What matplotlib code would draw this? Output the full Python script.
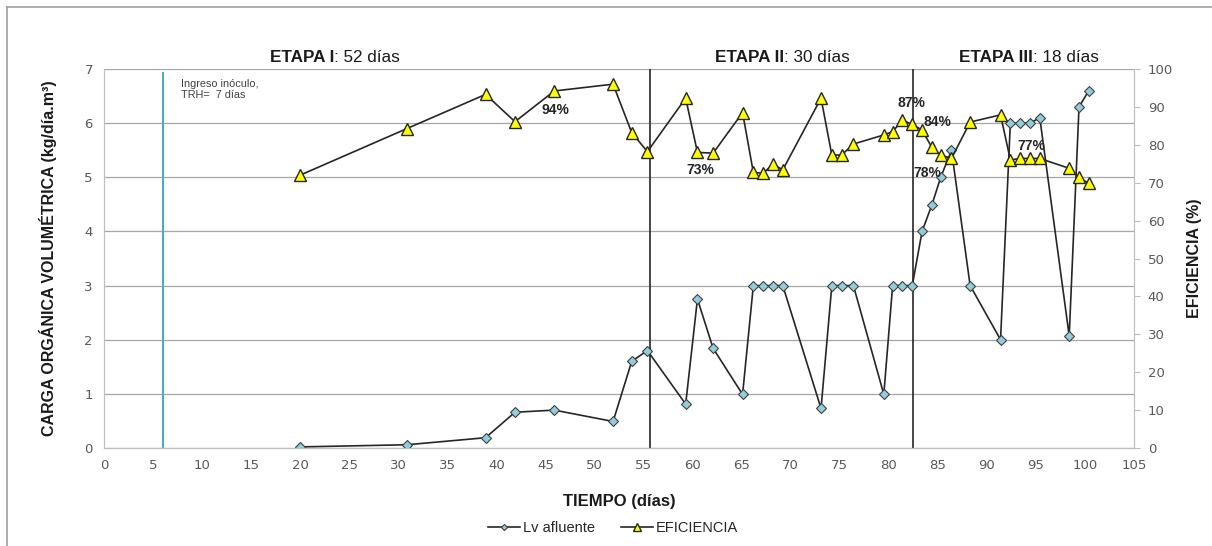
"""
Carga orgánica volumétrica y eficiencia vs tiempo
"""

from matplotlib import pyplot as plt
from matplotlib.lines import Line2D

# Lv afluente (kg/día.m3)
dias_lv = [20.0, 30.9, 38.9, 41.9, 45.9, 51.9, 53.8, 55.4, 59.3, 60.5, 62.1,
           65.1, 66.2, 67.2, 68.2, 69.2, 73.1, 74.2, 75.2, 76.4, 79.5, 80.4,
           81.4, 82.4, 83.4, 84.4, 85.3, 86.4, 88.3, 91.4, 92.4, 93.4, 94.4,
           95.4, 98.4, 99.4, 100.4]
lv = [0.02, 0.06, 0.19, 0.66, 0.70, 0.49, 1.60, 1.80, 0.81, 2.75, 1.84,
      0.99, 3.0, 3.0, 3.0, 3.0, 0.73, 3.0, 3.0, 3.0, 0.99, 3.0,
      3.0, 3.0, 4.0, 4.49, 5.0, 5.5, 3.0, 2.0, 6.0, 6.0, 6.0,
      6.1, 2.07, 6.3, 6.6]

# eficiencia (%)
dias_ef = [20.0, 30.9, 38.9, 41.9, 45.9, 51.9, 53.8, 55.4, 59.3, 60.5, 62.1,
           65.1, 66.2, 67.2, 68.2, 69.2, 73.1, 74.2, 75.2, 76.4, 79.5, 80.4,
           81.4, 82.4, 83.4, 84.4, 85.3, 86.4, 88.3, 91.4, 92.4, 93.4, 94.4,
           95.4, 98.4, 99.4, 100.4]
eficiencia = [72.0, 84.3, 93.3, 86.1, 94.2, 96.0, 83.2, 78.2, 92.3, 78.0, 77.8,
              88.5, 72.7, 72.5, 74.9, 73.4, 92.3, 77.3, 77.3, 80.2, 82.6, 83.5,
              86.5, 85.4, 83.9, 79.3, 77.3, 76.4, 86.0, 87.9, 76.0, 76.4, 76.4,
              76.4, 73.8, 71.4, 69.8]

# etiquetas de porcentaje (x, y en eje de eficiencia)
etiquetas = ['94%', '73%', '87%', '84%', '78%', '77%']
etiq_x = [46.0, 60.8, 82.3, 85.0, 83.9, 94.5]
etiq_y = [89.2, 73.4, 91.0, 86.0, 72.6, 79.7]

# limites de etapa
limites = [55.7, 82.5]
inoculo = 6.0

plt.rcParams['font.family'] = ['Liberation Sans', 'DejaVu Sans']

fig = plt.figure(figsize=(12.12, 5.46), dpi=100)
ax = fig.add_axes([0.0858, 0.1795, 0.8498, 0.6941])
ax2 = ax.twinx()

spine_c = '#bfbfbf'
tick_c = '#595959'

# marco exterior (solo visible arriba e izquierda)
fig.add_artist(Line2D([7 / 1212, 7 / 1212], [0, 1 - 7 / 546],
                      color='#a0a0a0', lw=1.2, transform=fig.transFigure))
fig.add_artist(Line2D([7 / 1212, 1], [1 - 7 / 546, 1 - 7 / 546],
                      color='#a0a0a0', lw=1.2, transform=fig.transFigure))

ax.set_xlim(0, 105)
ax.set_ylim(0, 7)
ax.set_xticks(range(0, 106, 5))
ax.set_yticks(range(0, 8))
ax.grid(axis='y', color='#a6a6a6', lw=0.9)
ax.set_axisbelow(True)
ax.tick_params(axis='both', length=0, labelsize=9.5, colors=tick_c, pad=8,
               labelfontfamily='DejaVu Sans')
for s in ax.spines.values():
    s.set_color(spine_c)
ax.spines['top'].set_visible(False)

ax2.set_ylim(0, 100)
ax2.set_yticks(range(0, 101, 10))
ax2.tick_params(axis='y', length=4, color=spine_c, labelsize=9.5,
                colors=tick_c, pad=6, labelfontfamily='DejaVu Sans')
ax2.tick_params(axis='y', color=spine_c)
for s in ax2.spines.values():
    s.set_color(spine_c)
ax2.spines['top'].set_visible(False)

# lineas verticales
ax.axvline(inoculo, ymax=0.99, color='#4bacc6', lw=1.5)
for lim in limites:
    ax.axvline(lim, color='#262626', lw=1.2, zorder=1)

ax.plot(dias_lv, lv, color='#262626', lw=1.2, marker='D', markersize=5.2,
        markerfacecolor='#93cddd', markeredgecolor='#404040',
        markeredgewidth=0.8, label='Lv afluente', zorder=3)
ax2.plot(dias_ef, eficiencia, color='#262626', lw=1.2, marker='^',
         markersize=9, markerfacecolor='#ffff00', markeredgecolor='#262626',
         markeredgewidth=1.0, label='EFICIENCIA', zorder=3)

for t, x, y in zip(etiquetas, etiq_x, etiq_y):
    ax2.text(x, y, t, ha='center', va='center', fontsize=10,
             fontweight='bold', color='#262626')

ax.text(7.9, 6.62, 'Ingreso inóculo,\nTRH=  7 días', fontsize=7.8,
        color='#404040', va='center', linespacing=1.15)

# titulos de etapa
titulos = [('ETAPA I', ': 52 días', 270), ('ETAPA II', ': 30 días', 715),
           ('ETAPA III', ': 18 días', 959)]
for bold, rest, px in titulos:
    tb = fig.text(px / 1212, 1 - 58 / 546, bold, fontsize=12.3,
                  fontweight='bold', va='center', color='#1a1a1a')
    fig.canvas.draw()
    bb = tb.get_window_extent()
    fig.text(bb.x1 / 1212, 1 - 58 / 546, rest, fontsize=12.3, va='center',
             color='#1a1a1a')

ax.set_ylabel('CARGA ORGÁNICA VOLUMÉTRICA (kg/día.m³)', fontsize=11.5,
              fontweight='bold', color='#1a1a1a', labelpad=20)
ax2.set_ylabel('EFICIENCIA (%)', fontsize=11.5, fontweight='bold',
               color='#1a1a1a', labelpad=10)
ax.set_xlabel('TIEMPO (días)', fontsize=12, fontweight='bold',
              color='#1a1a1a', labelpad=16)

h1, l1 = ax.get_legend_handles_labels()
h2, l2 = ax2.get_legend_handles_labels()
leg = fig.legend(h1 + h2, l1 + l2, loc='center', ncol=2,
                 bbox_to_anchor=(613 / 1212, 1 - 528 / 546), frameon=False,
                 fontsize=10.5, handlelength=2.2, markerscale=0.6,
                 columnspacing=1.8, handletextpad=0.2)
for t in leg.get_texts():
    t.set_color('#262626')

fig.savefig('out.png', dpi=100)
